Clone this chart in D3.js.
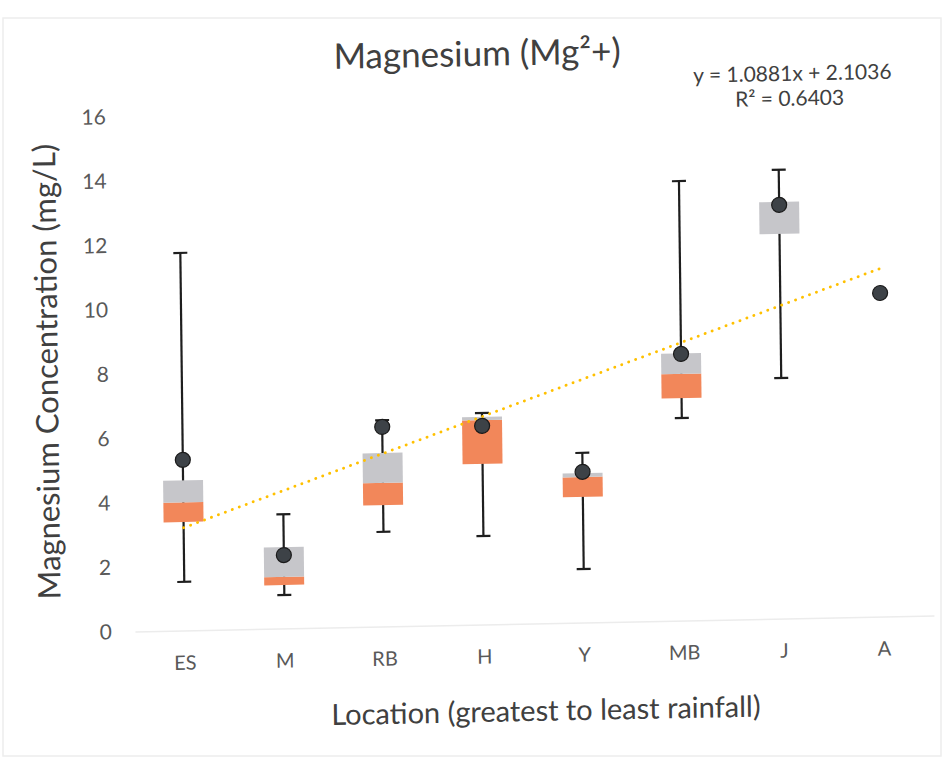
<!DOCTYPE html>
<html>
<head>
<meta charset="utf-8">
<script src="https://cdn.jsdelivr.net/npm/d3@7"></script>
<style>
  body { margin: 0; background: #fff; }
  svg { display: block; }
</style>
</head>
<body>
<div id="chart"></div>
<script>
// data
const categories = ["ES", "M", "RB", "H", "Y", "MB", "J", "A"];
const whiskerMin = [1.51, 1.04, 2.94, 2.75, 1.66, 6.29, 7.47, null];
const q1 = [3.37, 1.35, 3.77, 4.99, 3.90, 6.91, 11.95, null];
const median = [3.98, 1.60, 4.46, 6.35, 4.52, 7.66, 11.95, null];
const q3 = [4.66, 2.53, 5.39, 6.45, 4.64, 8.30, 12.94, null];
const whiskerMax = [11.73, 3.55, 6.41, 6.57, 5.27, 13.65, 13.94, null];
const means = [5.30, 2.28, 6.20, 6.17, 4.68, 8.28, 12.85, 10.05];
const yTicks = [0, 2, 4, 6, 8, 10, 12, 14, 16];

// linear trendline shown on the chart
const trendSlope = 1.0881;
const trendIntercept = 2.1036;
const rSquared = 0.6403;

function main() {
    const width = 948, height = 761;
    const font = "Lato, 'Open Sans', sans-serif";

    const svg = d3.select("#chart")
        .append("svg")
        .attr("width", width)
        .attr("height", height);

    // faint edge of the scanned page
    svg.append("rect")
        .attr("x", 3).attr("y", 18)
        .attr("width", 938).attr("height", 738)
        .attr("fill", "none")
        .attr("stroke", "#ededed")
        .attr("stroke-width", 1.5);

    // the scan is slightly skewed, so the whole chart gets a small tilt
    const cx = 530, cy = 380, kx = -0.02, ky = 0.012;
    const g = svg.append("g")
        .attr("transform", `matrix(1,${kx},${ky},1,${-ky * cy},${-kx * cx})`);

    const x = d3.scaleBand()
        .domain(categories)
        .range([132, 931])
        .padding(0);

    const y = d3.scaleLinear()
        .domain([0, 16])
        .range([623.5, 108.5]);

    const cxOf = d => x(d) + x.bandwidth() / 2;
    const boxW = x.bandwidth() * 0.4;

    // y axis (labels only)
    const yAxis = g.append("g")
        .attr("transform", "translate(121,0)")
        .call(d3.axisLeft(y).tickValues(yTicks).tickSize(0).tickPadding(12));
    yAxis.select(".domain").remove();
    yAxis.selectAll("text")
        .attr("font-family", font)
        .attr("font-size", 21)
        .attr("fill", "#595959");

    // x axis
    const xAxis = g.append("g")
        .attr("transform", `translate(0,${y(0)})`)
        .call(d3.axisBottom(x).tickSize(0).tickPadding(25));
    xAxis.select(".domain")
        .attr("stroke", "#ececec")
        .attr("stroke-width", 1.5);
    xAxis.selectAll("text")
        .attr("font-family", font)
        .attr("font-size", 20)
        .attr("fill", "#595959");

    const rows = categories.map((c, i) => ({
        cat: c, lo: whiskerMin[i], q1: q1[i], med: median[i], q3: q3[i],
        hi: whiskerMax[i], mean: means[i]
    }));
    const boxes = rows.filter(d => d.q1 !== null);

    // whiskers
    const wg = g.append("g").attr("stroke", "#1e1e1e").attr("stroke-width", 2.2);
    wg.selectAll(".stem").data(boxes).enter().append("line")
        .attr("x1", d => cxOf(d.cat)).attr("x2", d => cxOf(d.cat))
        .attr("y1", d => y(d.lo)).attr("y2", d => y(d.hi));
    wg.selectAll(".capHi").data(boxes).enter().append("line")
        .attr("x1", d => cxOf(d.cat) - 7).attr("x2", d => cxOf(d.cat) + 7)
        .attr("y1", d => y(d.hi)).attr("y2", d => y(d.hi));
    wg.selectAll(".capLo").data(boxes).enter().append("line")
        .attr("x1", d => cxOf(d.cat) - 7).attr("x2", d => cxOf(d.cat) + 7)
        .attr("y1", d => y(d.lo)).attr("y2", d => y(d.lo));

    // lower box: q1 -> median (orange)
    g.append("g").selectAll("rect").data(boxes).enter().append("rect")
        .attr("x", d => cxOf(d.cat) - boxW / 2)
        .attr("width", boxW)
        .attr("y", d => y(d.med))
        .attr("height", d => y(d.q1) - y(d.med))
        .attr("fill", "#f2875a");

    // upper box: median -> q3 (grey)
    g.append("g").selectAll("rect").data(boxes).enter().append("rect")
        .attr("x", d => cxOf(d.cat) - boxW / 2)
        .attr("width", boxW)
        .attr("y", d => y(d.q3))
        .attr("height", d => y(d.med) - y(d.q3))
        .attr("fill", "#c6c6ca");

    // trendline
    const trendX = d3.range(1, categories.length + 1);
    const line = d3.line()
        .x(k => cxOf(categories[k - 1]))
        .y(k => y(trendSlope * k + trendIntercept));
    g.append("path")
        .datum(trendX)
        .attr("d", line)
        .attr("fill", "none")
        .attr("stroke", "#ffc000")
        .attr("stroke-width", 3)
        .attr("stroke-linecap", "round")
        .attr("stroke-dasharray", "0,7.4");

    // mean points
    g.append("g").selectAll("circle").data(rows).enter().append("circle")
        .attr("cx", d => cxOf(d.cat))
        .attr("cy", d => y(d.mean))
        .attr("r", 7.5)
        .attr("fill", "#3d4247")
        .attr("stroke", "#1a1a1a")
        .attr("stroke-width", 1.2);

    // title
    g.append("text")
        .attr("x", 481).attr("y", 65)
        .attr("text-anchor", "middle")
        .attr("font-family", font)
        .attr("font-size", 35)
        .attr("fill", "#404040")
        .text("Magnesium (Mg²+)");

    // trendline equation
    g.append("text")
        .attr("x", 796).attr("y", 86)
        .attr("text-anchor", "middle")
        .attr("font-family", font)
        .attr("font-size", 21)
        .attr("fill", "#404040")
        .text(`y = ${trendSlope}x + ${trendIntercept}`);
    g.append("text")
        .attr("x", 793).attr("y", 111)
        .attr("text-anchor", "middle")
        .attr("font-family", font)
        .attr("font-size", 21)
        .attr("fill", "#404040")
        .text(`R² = ${rSquared}`);

    // axis titles
    g.append("text")
        .attr("x", 542).attr("y", 721)
        .attr("text-anchor", "middle")
        .attr("font-family", font)
        .attr("font-size", 29)
        .attr("fill", "#404040")
        .text("Location (greatest to least rainfall)");

    g.append("text")
        .attr("transform", "translate(46,362) rotate(-90)")
        .attr("text-anchor", "middle")
        .attr("dominant-baseline", "central")
        .attr("font-family", font)
        .attr("font-size", 31)
        .attr("fill", "#404040")
        .text("Magnesium Concentration (mg/L)");
}

main()
</script>
</body>
</html>
